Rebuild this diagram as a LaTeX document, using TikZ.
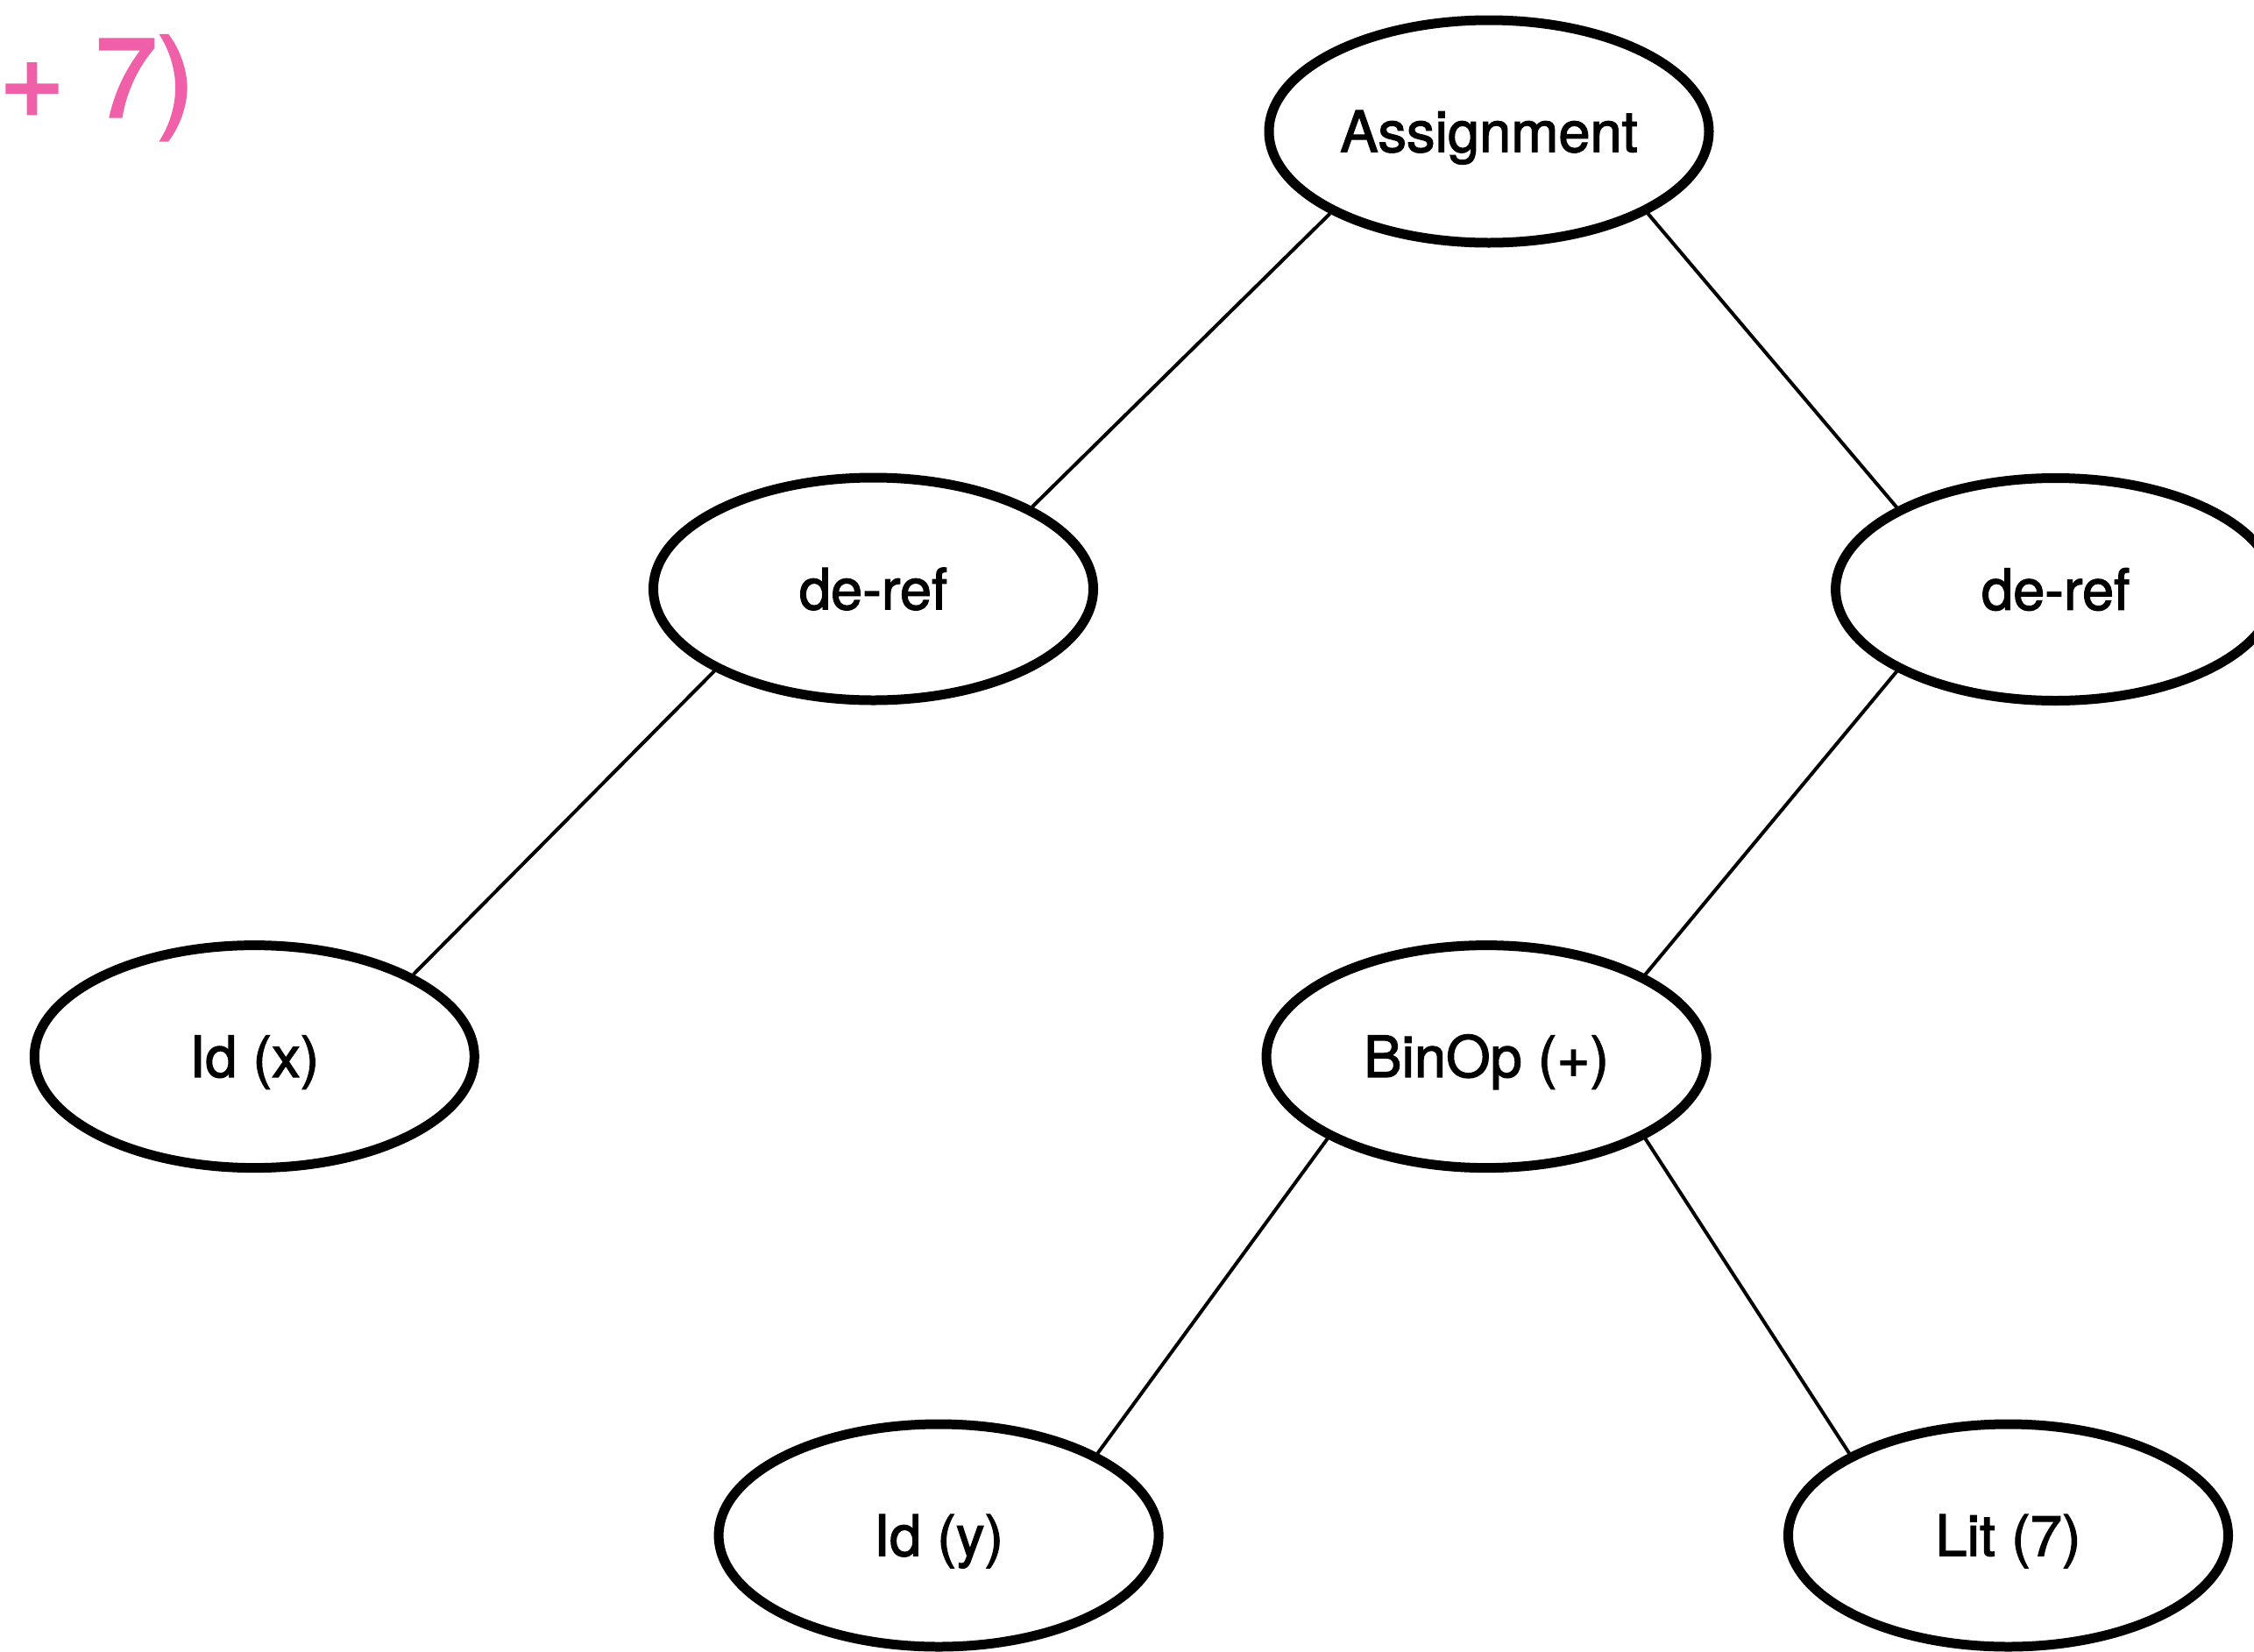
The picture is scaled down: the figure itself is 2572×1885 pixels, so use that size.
\documentclass[tikz,border=0pt]{standalone}
\usepackage{fontspec}
\setmainfont{TeX Gyre Heros}
\newfontfamily\labelfont{TeX Gyre Heros}[FakeBold=2]
\newfontfamily\exprfont{TeX Gyre Heros}[FakeBold=2.5]
\usetikzlibrary{shapes.geometric}
\definecolor{exprpink}{RGB}{239,96,168}
\begin{document}
\begin{tikzpicture}[x=0.5pt,y=-0.5pt,
  astnode/.style={ellipse, draw=black, line width=5.5pt, fill=white,
    minimum width=251pt, minimum height=127pt, inner sep=0pt,
    font=\labelfont\fontsize{32.5}{36}\selectfont, text height=23.3pt, text depth=0pt},
  astedge/.style={draw=black, line width=2pt}]
  \useasboundingbox (0,0) rectangle (2572,1885);

  % tail of the source expression
  \node[anchor=base west, inner sep=0pt, text=exprpink,
        font=\exprfont\fontsize{63.5}{70}\selectfont] (expr) at (-1,133) {+ 7)};

  % syntax tree nodes
  \node[astnode] (assign) at (1699,150)  {Assignment};
  \node[astnode] (lderef) at (996.5,672) {de-ref};
  \node[astnode] (rderef) at (2345.6,672.5) {de-ref};
  \node[astnode] (idx)    at (290.3,1205.6) {Id (x)};
  \node[astnode] (binop)  at (1696.1,1205.6) {BinOp (+)};
  \node[astnode] (idy)    at (1071.1,1752) {Id (y)};
  \node[astnode] (lit)    at (2291.5,1752) {Lit (7)};

  % tree edges
  \draw[astedge] (assign.south west) -- (lderef.north east);
  \draw[astedge] (assign.south east) -- (rderef.north west);
  \draw[astedge] (lderef.south west) -- (idx.north east);
  \draw[astedge] (rderef.south west) -- (binop.north east);
  \draw[astedge] (binop.south west)  -- (idy.north east);
  \draw[astedge] (binop.south east)  -- (lit.north west);
\end{tikzpicture}
\end{document}
